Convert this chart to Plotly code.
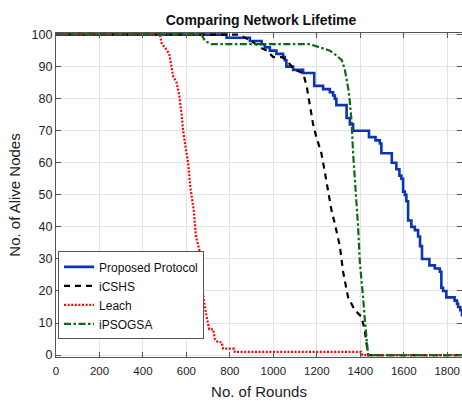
import plotly.graph_objects as go

# ---- data ----
proposed_x = [0, 785, 892, 946, 961, 984, 1014, 1045, 1053, 1060, 1091, 1137, 1188, 1229, 1260, 1275, 1283,
              1290, 1337, 1352, 1367, 1440, 1470, 1490, 1497, 1545, 1566, 1580, 1589, 1597, 1605, 1612, 1620,
              1635, 1651, 1666, 1675, 1684, 1718, 1743, 1766, 1773, 1781, 1796, 1834, 1845, 1850, 1860, 1868]
proposed_y = [100, 99, 98, 97, 96, 95, 94, 93, 92, 90, 89, 88, 84, 83, 82, 81, 80,
              78, 74, 72, 70, 68, 67, 66, 63, 60, 58, 56, 55, 51, 50, 48, 42,
              40, 39, 37, 34, 30, 28, 27, 26, 21, 20, 18, 17, 16, 15, 14, 12]

icshs_x = [0, 840, 870, 900, 940, 969, 1000, 1040, 1060, 1099, 1137, 1153, 1168, 1183, 1198, 1221, 1237,
           1252, 1268, 1283, 1306, 1321, 1344, 1375, 1405, 1420, 1429, 1436, 1868]
icshs_y = [100, 100, 99, 98, 96, 95, 93, 93, 92, 89, 88, 84, 78, 72, 68, 63, 57,
           51, 45, 41, 34, 26, 18, 14, 12, 8, 4, 0, 0]

leach_x = [0, 478, 487, 501, 521, 529, 539, 555, 567, 578, 585, 598, 608, 617, 627, 634, 644, 659, 670,
           680, 693, 705, 723, 731, 745, 762, 769, 820, 823, 1405, 1410, 1868]
leach_y = [100, 100, 97, 96, 94, 91, 87, 85, 81, 75, 70, 64, 60, 53, 49, 45, 37, 33, 24,
           17, 12, 8, 8, 5, 4, 4, 2, 2, 1, 1, 0, 0]

ipsogsa_x = [0, 670, 685, 716, 1168, 1214, 1260, 1290, 1315, 1329, 1337, 1345, 1352, 1360, 1367, 1375,
             1382, 1390, 1398, 1406, 1413, 1421, 1429, 1436, 1868]
ipsogsa_y = [100, 100, 98, 97, 97, 96, 95, 93.5, 92, 89, 86, 83, 79, 73, 63, 55,
             50, 40, 29, 24, 18, 11, 5, 0, 0]

x_ticks = [0, 200, 400, 600, 800, 1000, 1200, 1400, 1600, 1800]
y_ticks = [0, 10, 20, 30, 40, 50, 60, 70, 80, 90, 100]

FONT = "Liberation Sans, Arial, sans-serif"

fig = go.Figure()
fig.add_trace(go.Scatter(x=proposed_x, y=proposed_y, mode="lines", name="Proposed Protocol",
                         line=dict(color="#0a34b4", width=2.6, shape="hv")))
fig.add_trace(go.Scatter(x=icshs_x, y=icshs_y, mode="lines", name="iCSHS",
                         line=dict(color="#000000", width=2.2, dash="6px,5px")))
fig.add_trace(go.Scatter(x=leach_x, y=leach_y, mode="lines", name="Leach",
                         line=dict(color="#ff0000", width=2.2, dash="2px,1.6px")))
fig.add_trace(go.Scatter(x=ipsogsa_x, y=ipsogsa_y, mode="lines", name="iPSOGSA",
                         line=dict(color="#0b6b12", width=2.2, dash="7px,2.5px,2.5px,2.5px")))

axis_common = dict(showgrid=True, gridcolor="#e3e3e3", gridwidth=1, zeroline=False,
                   showline=True, linecolor="#555555", linewidth=1.2, mirror="ticks",
                   ticks="inside", ticklen=5, tickcolor="#555555")

fig.update_layout(
    width=462, height=401,
    margin=dict(l=56, r=0, t=33, b=44),
    paper_bgcolor="white", plot_bgcolor="white",
    title=dict(text="<b>Comparing Network Lifetime</b>", x=0.565, xanchor="center",
               y=0.95, yanchor="middle", font=dict(family=FONT, size=14, color="#111111")),
    xaxis=dict(range=[0, 1868], tickvals=x_ticks, ticklabelstandoff=3,
               tickfont=dict(family=FONT, size=11.5, color="#222222"),
               title=dict(text="No. of Rounds", font=dict(family=FONT, size=15, color="#222222"), standoff=10),
               **axis_common),
    yaxis=dict(range=[-0.6, 100.5], tickvals=y_ticks,
               tickfont=dict(family=FONT, size=12.5, color="#222222"),
               title=dict(text="No. of Alive Nodes", font=dict(family=FONT, size=15, color="#222222"), standoff=7),
               **axis_common),
    legend=dict(x=0.005, y=0.326, xanchor="left", yanchor="top",
                bgcolor="white", bordercolor="#555555", borderwidth=1,
                font=dict(family=FONT, size=12, color="#111111"),
                tracegroupgap=0, itemwidth=30),
    showlegend=True,
)

fig.write_html("out.html")
